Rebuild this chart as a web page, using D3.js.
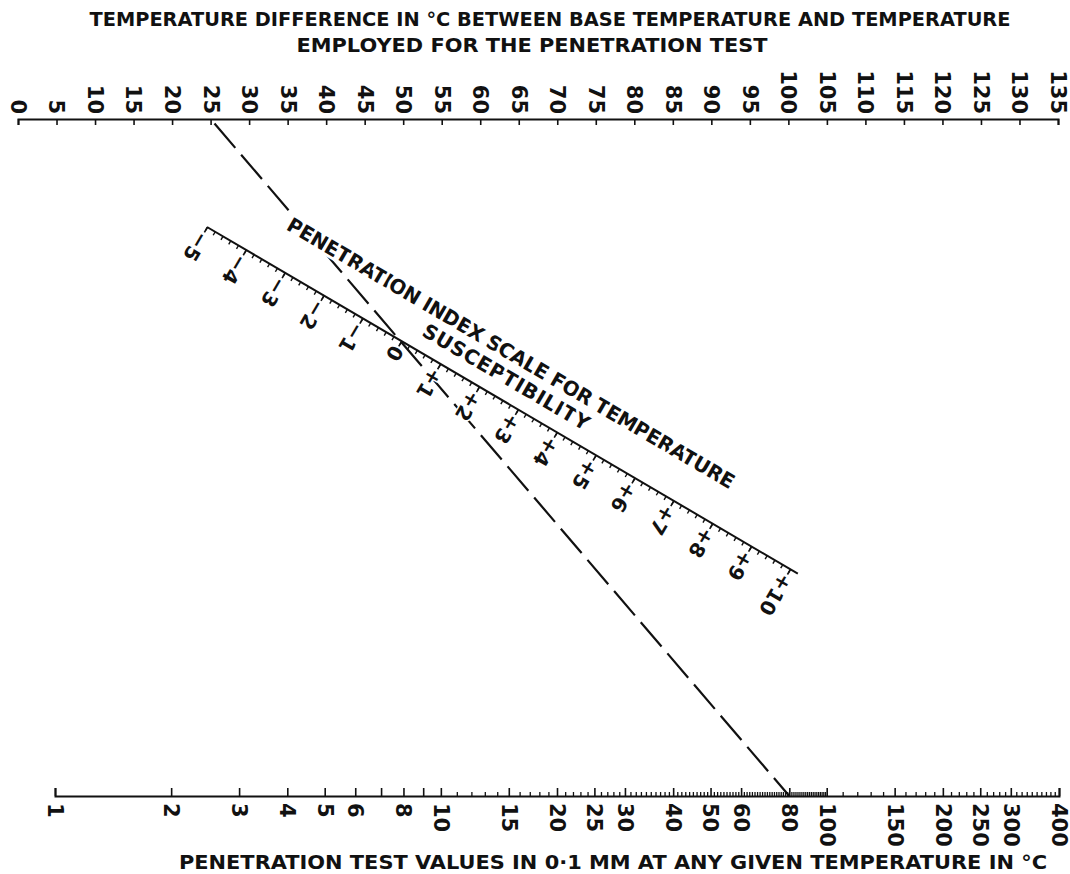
<!DOCTYPE html>
<html>
<head>
<meta charset="utf-8">
<title>Penetration index nomogram</title>
<script src="https://d3js.org/d3.v7.min.js"></script>
<style>
  body { margin: 0; background: #fff; }
  svg text { font-family: "DejaVu Sans", sans-serif; fill: #111; font-weight: bold; }
</style>
</head>
<body>
<div id="viz"></div>
<script>
// values
let tempDiffTicks = [0,5,10,15,20,25,30,35,40,45,50,55,60,65,70,75,80,85,90,95,100,105,110,115,120,125,130,135];
let penLabelTicks = [1,2,3,4,5,6,8,10,15,20,25,30,40,50,60,80,100,150,200,250,300,400];
let penMajorTicks = [1,2,3,4,5,6,7,8,9,10,15,20,25,30,40,50,60,80,100,150,200,250,300,400];
let penMinorTicks = d3.range(11, 100).concat(d3.range(110, 400, 10))
    .filter(d => !penMajorTicks.includes(d));
let piLabels = [-5,-4,-3,-2,-1,0,1,2,3,4,5,6,7,8,9,10];
let piMinorTicks = d3.range(-50, 101, 2).map(d => d / 10);
// example reading: temperature difference on the top scale, penetration on the bottom one
let keyLine = [25, 80];

let width = 1070,
    height = 874;
let topY = 119,
    botY = 796;

let svg = d3.select('#viz')
    .append('svg')
    .attr('width', width)
    .attr('height', height);

let xTop = d3.scaleLinear().domain([0, 135]).range([18, 1058]);
let xBot = d3.scaleLog().domain([1, 400]).range([55, 1059]);
let piScale = d3.scaleLinear().domain([-5, 10]).range([0, 676]);
let piOrigin = [207, 227],
    piAngle = 30.4;

// dashed key line (drawn first so lettering masks it)
svg.append('line')
    .attr('x1', xTop(keyLine[0]))
    .attr('y1', topY)
    .attr('x2', xBot(keyLine[1]))
    .attr('y2', botY)
    .attr('stroke', '#111')
    .attr('stroke-width', 2.2)
    .attr('stroke-dasharray', '32,9')
    .attr('stroke-dashoffset', 35);

// top scale
let topAxis = svg.append('g')
    .attr('transform', `translate(0,${topY})`)
    .style('color', '#111')
    .call(d3.axisTop(xTop).tickValues(tempDiffTicks).tickSizeInner(-6).tickSizeOuter(-6).tickPadding(0));
topAxis.select('.domain').attr('stroke-width', 2);
topAxis.selectAll('.tick line').attr('stroke-width', 1.6);
topAxis.selectAll('text')
    .attr('transform', 'rotate(90)')
    .attr('x', -5)
    .attr('y', 0)
    .attr('dy', '0.36em')
    .attr('text-anchor', 'end')
    .style('font-size', '21px');

// bottom scale
let botAxis = svg.append('g')
    .attr('transform', `translate(0,${botY})`)
    .style('color', '#111');
botAxis.append('g')
    .call(d3.axisBottom(xBot).tickValues(penMinorTicks).tickSize(-4).tickFormat(''))
    .call(g => g.select('.domain').remove())
    .selectAll('.tick line').attr('stroke-width', 1.3);
let botMajor = botAxis.append('g')
    .call(d3.axisBottom(xBot).tickValues(penMajorTicks).tickSizeInner(-8).tickSizeOuter(-8)
        .tickFormat(d => penLabelTicks.includes(d) ? d : ''));
botMajor.select('.domain').attr('stroke-width', 2);
botMajor.selectAll('.tick line').attr('stroke-width', 1.6);
botMajor.selectAll('text')
    .attr('transform', 'rotate(90)')
    .attr('x', 7)
    .attr('y', 0)
    .attr('dy', '0.36em')
    .attr('text-anchor', 'start')
    .style('font-size', '21px');

// penetration index scale
let piG = svg.append('g')
    .attr('transform', `translate(${piOrigin}) rotate(${piAngle})`)
    .style('color', '#111');

piG.append('text')
    .attr('x', 326)
    .attr('y', -38)
    .attr('text-anchor', 'middle')
    .attr('textLength', 515)
    .attr('lengthAdjust', 'spacing')
    .style('font-size', '20px')
    .style('stroke', '#fff')
    .style('stroke-width', 6)
    .style('paint-order', 'stroke')
    .text('PENETRATION INDEX SCALE FOR TEMPERATURE');
piG.append('text')
    .attr('x', 334)
    .attr('y', -15)
    .attr('text-anchor', 'middle')
    .attr('textLength', 190)
    .attr('lengthAdjust', 'spacing')
    .style('font-size', '20px')
    .style('stroke', '#fff')
    .style('stroke-width', 6)
    .style('paint-order', 'stroke')
    .text('SUSCEPTIBILITY');

piG.append('line')
    .attr('x1', piScale(-5))
    .attr('x2', piScale(10) + 9)
    .attr('stroke', '#111')
    .attr('stroke-width', 2);
piG.append('g')
    .call(d3.axisBottom(piScale).tickValues(piMinorTicks).tickSize(4).tickFormat(''))
    .call(g => g.select('.domain').remove())
    .selectAll('.tick line').attr('stroke-width', 1.4);
let piMajor = piG.append('g')
    .call(d3.axisBottom(piScale).tickValues(piLabels).tickSize(6)
        .tickFormat(d => d > 0 ? '+' + d : d < 0 ? '\u2212' + Math.abs(d) : '0'));
piMajor.select('.domain').remove();
piMajor.selectAll('.tick line').attr('stroke-width', 1.6);
piMajor.selectAll('text')
    .attr('transform', 'rotate(90)')
    .attr('x', 7)
    .attr('y', 0)
    .attr('dy', '0.36em')
    .attr('text-anchor', 'start')
    .style('font-size', '20px')
    .style('stroke', '#fff')
    .style('stroke-width', 3)
    .style('paint-order', 'stroke');

// titles
svg.append('text')
    .attr('x', 550)
    .attr('y', 26)
    .attr('text-anchor', 'middle')
    .attr('textLength', 921)
    .attr('lengthAdjust', 'spacingAndGlyphs')
    .style('font-size', '19px')
    .text('TEMPERATURE DIFFERENCE IN °C BETWEEN BASE TEMPERATURE AND TEMPERATURE');
svg.append('text')
    .attr('x', 532)
    .attr('y', 52)
    .attr('text-anchor', 'middle')
    .attr('textLength', 471)
    .attr('lengthAdjust', 'spacingAndGlyphs')
    .style('font-size', '19px')
    .text('EMPLOYED FOR THE PENETRATION TEST');
svg.append('text')
    .attr('x', 613)
    .attr('y', 869)
    .attr('text-anchor', 'middle')
    .attr('textLength', 868)
    .attr('lengthAdjust', 'spacingAndGlyphs')
    .style('font-size', '19px')
    .text('PENETRATION TEST VALUES IN 0·1 MM AT ANY GIVEN TEMPERATURE IN °C');
</script>
</body>
</html>
